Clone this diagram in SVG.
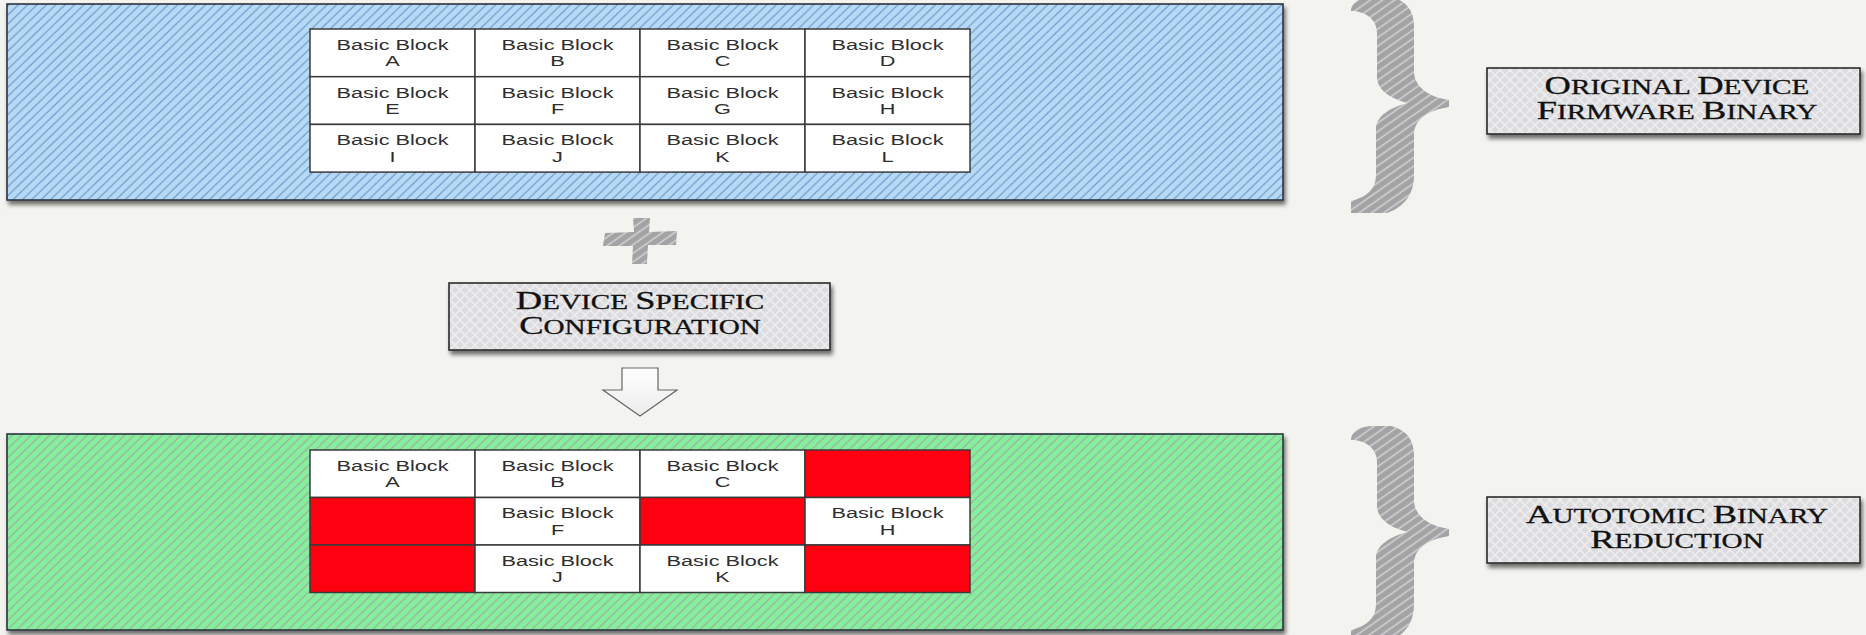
<svg xmlns="http://www.w3.org/2000/svg" width="1866" height="635" viewBox="0 0 1866 635">
<style>
.bg{fill:#f3f3ef}
.frame{stroke:#2b3440;stroke-width:1.6}
.cell{fill:#ffffff;stroke:#3a3a3a;stroke-width:1.5}
.red{fill:#ff0010;stroke:#3a3a3a;stroke-width:1.5}
.bb{font-family:"Liberation Sans",Arial,sans-serif;font-size:15.5px;fill:#2e2e2e;text-anchor:middle}
.lbl{font-family:"Liberation Serif","Times New Roman",serif;font-size:20px;fill:#111;stroke:#111;stroke-width:0.3;text-anchor:middle}
.big{font-size:25px}
.tag{fill:url(#diamond);stroke:#2a2a2a;stroke-width:1.6}
.brace{fill:url(#greyHatch)}
</style>
<defs>
<pattern id="blueHatch" patternUnits="userSpaceOnUse" width="6.5" height="6.5" patternTransform="rotate(-44)">
<rect width="6.5" height="6.5" fill="#b7d9f4"/>
<line x1="0" y1="3.2" x2="6.5" y2="3.2" stroke="#6c9cd0" stroke-width="1.2"/>
</pattern>
<pattern id="greenHatch" patternUnits="userSpaceOnUse" width="6.5" height="6.5" patternTransform="rotate(-44)">
<rect width="6.5" height="6.5" fill="#86ef9e"/>
<line x1="0" y1="3.2" x2="6.5" y2="3.2" stroke="#9cae9f" stroke-width="1.2"/>
</pattern>
<pattern id="greyHatch" patternUnits="userSpaceOnUse" width="7" height="7" patternTransform="rotate(-35)">
<rect width="7" height="7" fill="#a3a3a5"/>
<line x1="0" y1="3.5" x2="7" y2="3.5" stroke="#d6d6d6" stroke-width="1.4"/>
</pattern>
<pattern id="diamond" patternUnits="userSpaceOnUse" width="10" height="10">
<rect width="10" height="10" fill="#dcdcdf"/>
<path d="M0,0 L10,10 M10,0 L0,10" stroke="#ededef" stroke-width="1.6"/>
</pattern>
<linearGradient id="arrowFill" x1="0" y1="0" x2="0" y2="1">
<stop offset="0" stop-color="#ffffff"/>
<stop offset="1" stop-color="#ececec"/>
</linearGradient>
<filter id="sh" x="-5%" y="-10%" width="110%" height="130%">
<feDropShadow dx="2" dy="4" stdDeviation="2" flood-color="#000" flood-opacity="0.55"/>
</filter>
<path id="braceShape" d="M -98,-92 C -98,-100 -90,-106 -75,-106 L -58,-106 C -42,-102 -35,-92 -35,-76 L -35,-32 C -35,-16 -20,-6 0,-3 L 0,4 C -20,7 -35,16 -35,32 L -35,72 C -35,92 -45,104 -62,110 L -98,110 L -98,98 C -82,94 -73,86 -73,72 L -73,26 C -73,13 -58,4 -41,0 C -58,-4 -72,-13 -72,-26 L -72,-70 C -72,-84 -84,-92 -98,-92 Z"/>
</defs>

<rect class="bg" x="0" y="0" width="1866" height="635"/>

<g id="original-binary">
<rect class="frame" x="7" y="4" width="1276" height="196" fill="url(#blueHatch)" filter="url(#sh)"/>
<g id="grid-original">
<rect class="cell" x="310" y="29" width="165" height="47.7"/>
<rect class="cell" x="475" y="29" width="165" height="47.7"/>
<rect class="cell" x="640" y="29" width="165" height="47.7"/>
<rect class="cell" x="805" y="29" width="165" height="47.7"/>
<rect class="cell" x="310" y="76.7" width="165" height="47.7"/>
<rect class="cell" x="475" y="76.7" width="165" height="47.7"/>
<rect class="cell" x="640" y="76.7" width="165" height="47.7"/>
<rect class="cell" x="805" y="76.7" width="165" height="47.7"/>
<rect class="cell" x="310" y="124.4" width="165" height="47.7"/>
<rect class="cell" x="475" y="124.4" width="165" height="47.7"/>
<rect class="cell" x="640" y="124.4" width="165" height="47.7"/>
<rect class="cell" x="805" y="124.4" width="165" height="47.7"/>
<text class="bb" transform="matrix(1.4 0 0 1 392.5 0)" y="50"><tspan x="0">Basic Block</tspan><tspan x="0" dy="16.5">A</tspan></text>
<text class="bb" transform="matrix(1.4 0 0 1 557.5 0)" y="50"><tspan x="0">Basic Block</tspan><tspan x="0" dy="16.5">B</tspan></text>
<text class="bb" transform="matrix(1.4 0 0 1 722.5 0)" y="50"><tspan x="0">Basic Block</tspan><tspan x="0" dy="16.5">C</tspan></text>
<text class="bb" transform="matrix(1.4 0 0 1 887.5 0)" y="50"><tspan x="0">Basic Block</tspan><tspan x="0" dy="16.5">D</tspan></text>
<text class="bb" transform="matrix(1.4 0 0 1 392.5 0)" y="97.7"><tspan x="0">Basic Block</tspan><tspan x="0" dy="16.5">E</tspan></text>
<text class="bb" transform="matrix(1.4 0 0 1 557.5 0)" y="97.7"><tspan x="0">Basic Block</tspan><tspan x="0" dy="16.5">F</tspan></text>
<text class="bb" transform="matrix(1.4 0 0 1 722.5 0)" y="97.7"><tspan x="0">Basic Block</tspan><tspan x="0" dy="16.5">G</tspan></text>
<text class="bb" transform="matrix(1.4 0 0 1 887.5 0)" y="97.7"><tspan x="0">Basic Block</tspan><tspan x="0" dy="16.5">H</tspan></text>
<text class="bb" transform="matrix(1.4 0 0 1 392.5 0)" y="145.4"><tspan x="0">Basic Block</tspan><tspan x="0" dy="16.5">I</tspan></text>
<text class="bb" transform="matrix(1.4 0 0 1 557.5 0)" y="145.4"><tspan x="0">Basic Block</tspan><tspan x="0" dy="16.5">J</tspan></text>
<text class="bb" transform="matrix(1.4 0 0 1 722.5 0)" y="145.4"><tspan x="0">Basic Block</tspan><tspan x="0" dy="16.5">K</tspan></text>
<text class="bb" transform="matrix(1.4 0 0 1 887.5 0)" y="145.4"><tspan x="0">Basic Block</tspan><tspan x="0" dy="16.5">L</tspan></text>
</g>
</g>

<g id="reduced-binary">
<rect class="frame" x="7" y="434" width="1276" height="196" fill="url(#greenHatch)" filter="url(#sh)"/>
<g id="grid-reduced">
<rect class="cell" x="310" y="450" width="165" height="47.5"/>
<rect class="cell" x="475" y="450" width="165" height="47.5"/>
<rect class="cell" x="640" y="450" width="165" height="47.5"/>
<rect class="red" x="805" y="450" width="165" height="47.5"/>
<rect class="red" x="310" y="497.5" width="165" height="47.5"/>
<rect class="cell" x="475" y="497.5" width="165" height="47.5"/>
<rect class="red" x="640" y="497.5" width="165" height="47.5"/>
<rect class="cell" x="805" y="497.5" width="165" height="47.5"/>
<rect class="red" x="310" y="545" width="165" height="47.5"/>
<rect class="cell" x="475" y="545" width="165" height="47.5"/>
<rect class="cell" x="640" y="545" width="165" height="47.5"/>
<rect class="red" x="805" y="545" width="165" height="47.5"/>
<text class="bb" transform="matrix(1.4 0 0 1 392.5 0)" y="471"><tspan x="0">Basic Block</tspan><tspan x="0" dy="16.5">A</tspan></text>
<text class="bb" transform="matrix(1.4 0 0 1 557.5 0)" y="471"><tspan x="0">Basic Block</tspan><tspan x="0" dy="16.5">B</tspan></text>
<text class="bb" transform="matrix(1.4 0 0 1 722.5 0)" y="471"><tspan x="0">Basic Block</tspan><tspan x="0" dy="16.5">C</tspan></text>
<text class="bb" transform="matrix(1.4 0 0 1 557.5 0)" y="518.5"><tspan x="0">Basic Block</tspan><tspan x="0" dy="16.5">F</tspan></text>
<text class="bb" transform="matrix(1.4 0 0 1 887.5 0)" y="518.5"><tspan x="0">Basic Block</tspan><tspan x="0" dy="16.5">H</tspan></text>
<text class="bb" transform="matrix(1.4 0 0 1 557.5 0)" y="566"><tspan x="0">Basic Block</tspan><tspan x="0" dy="16.5">J</tspan></text>
<text class="bb" transform="matrix(1.4 0 0 1 722.5 0)" y="566"><tspan x="0">Basic Block</tspan><tspan x="0" dy="16.5">K</tspan></text>
</g>
</g>

<g id="brace-top">
<use href="#braceShape" class="brace" transform="translate(1449 103)"/>
</g>
<g id="brace-bottom">
<use href="#braceShape" class="brace" transform="translate(1449 532)"/>
</g>

<g id="label-original">
<rect class="tag" x="1487" y="68" width="373" height="66" filter="url(#sh)"/>
<text class="lbl" transform="matrix(1.46 0 0 1 1677 0)" x="0" y="94"><tspan class="big">O</tspan>RIGINAL <tspan class="big">D</tspan>EVICE</text>
<text class="lbl" transform="matrix(1.46 0 0 1 1677 0)" x="0" y="119"><tspan class="big">F</tspan>IRMWARE <tspan class="big">B</tspan>INARY</text>
</g>

<g id="label-reduction">
<rect class="tag" x="1487" y="497" width="373" height="66" filter="url(#sh)"/>
<text class="lbl" transform="matrix(1.46 0 0 1 1677 0)" x="0" y="523"><tspan class="big">A</tspan>UTOTOMIC <tspan class="big">B</tspan>INARY</text>
<text class="lbl" transform="matrix(1.46 0 0 1 1677 0)" x="0" y="548"><tspan class="big">R</tspan>EDUCTION</text>
</g>

<g id="plus">
<path class="brace" d="M 633,218 L 650,218 L 649,232 L 677,231 L 676,245 L 648,245 L 647,264 L 632,264 L 633,246 L 603,246 L 605,233 L 634,232 Z"/>
</g>

<g id="device-config">
<rect class="tag" x="449" y="283" width="381" height="67" filter="url(#sh)"/>
<text class="lbl" transform="matrix(1.46 0 0 1 640 0)" x="0" y="309"><tspan class="big">D</tspan>EVICE <tspan class="big">S</tspan>PECIFIC</text>
<text class="lbl" transform="matrix(1.46 0 0 1 640 0)" x="0" y="334"><tspan class="big">C</tspan>ONFIGURATION</text>
</g>

<g id="connectors">
<path d="M 622,368 L 658,368 L 658,390 L 677,390 L 640,416 L 603,390 L 622,390 Z" fill="url(#arrowFill)" stroke="#666" stroke-width="1.2" stroke-linejoin="miter"/>
</g>
</svg>
